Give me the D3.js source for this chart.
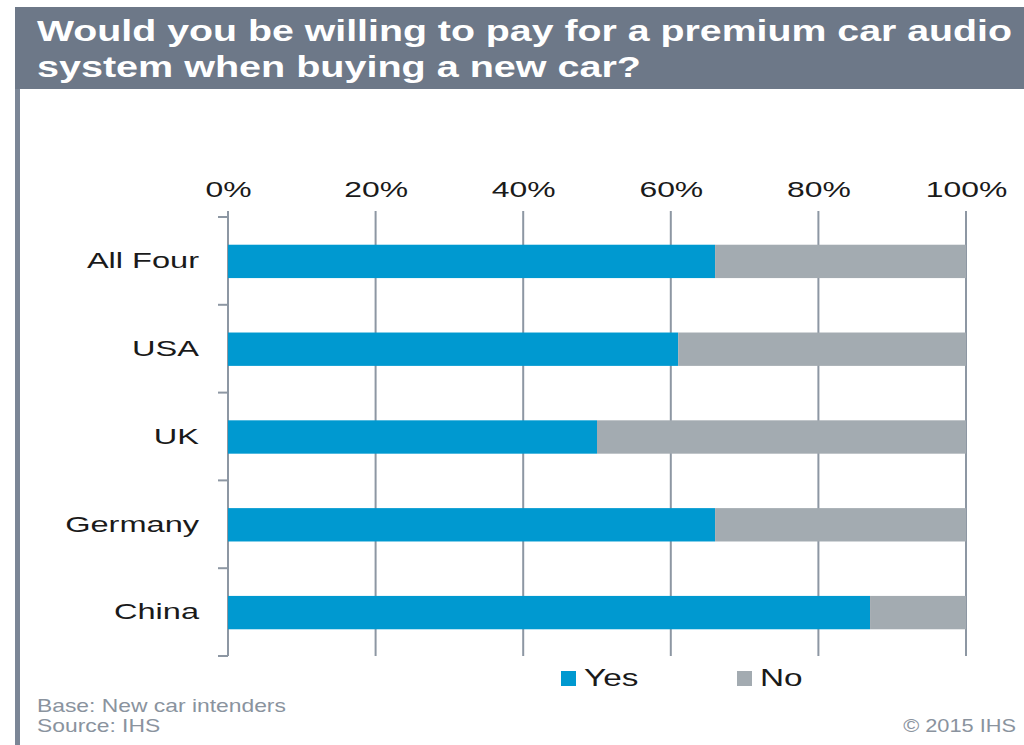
<!DOCTYPE html>
<html>
<head>
<meta charset="utf-8">
<script src="https://cdn.jsdelivr.net/npm/d3@7"></script>
<style>
  html, body { margin: 0; padding: 0; background: #fff; }
  svg { display: block; font-family: "Liberation Sans", Arial, sans-serif; }
</style>
</head>
<body>
<svg id="chart" width="1024" height="745"></svg>
<script>
// Survey answers per market (share of respondents, %)
const categories = ["All Four", "USA", "UK", "Germany", "China"];
const yesValues = [66, 61, 50, 66, 87];
const noValues = yesValues.map(v => 100 - v);
const seriesNames = ["Yes", "No"];
const tickValues = [0, 20, 40, 60, 80, 100];
const titleLines = ["Would you be willing to pay for a premium car audio", "system when buying a new car?"];
const notes = ["Base: New car intenders", "Source: IHS"];
const credit = "\u00A9 2015 IHS";

const colors = { Yes: "#0099d0", No: "#a3abb1" };
const gridColor = "#8d97a3";
const frameColor = "#7b8696";
const inkColor = "#1a1a1a";
const noteColor = "#8a939e";

// Text in this layout is set in a wide face: stretch glyphs horizontally
// around their anchor point.
function widen(sel, sx) {
  sel.each(function () {
    const t = d3.select(this);
    const x0 = +t.attr("x") || 0;
    t.attr("transform", `translate(${x0},0) scale(${sx},1) translate(${-x0},0)`);
  });
}

const svg = d3.select("#chart");

// Title banner and left frame rule
svg.append("rect").attr("x", 15).attr("y", 7).attr("width", 1009).attr("height", 82).attr("fill", "#6d7888");
svg.append("rect").attr("x", 15).attr("y", 89).attr("width", 5).attr("height", 656).attr("fill", frameColor);

const titleWidths = [975, 604];
titleLines.forEach((t, i) => {
  svg.append("text")
    .attr("x", 37).attr("y", 41 + i * 36)
    .attr("fill", "#fff").attr("font-size", 29).attr("font-weight", "bold")
    .attr("textLength", titleWidths[i]).attr("lengthAdjust", "spacingAndGlyphs")
    .text(t);
});

// Scales
const x = d3.scaleLinear().domain([0, 100]).range([228, 966]);
const y = d3.scaleBand().domain(categories).range([217, 656]).paddingInner(0.62).paddingOuter(0.31);
const yBands = d3.scaleBand().domain(categories).range([217, 656]);

// Vertical gridlines
svg.append("g").selectAll("line").data(tickValues).join("line")
  .attr("x1", d => x(d)).attr("x2", d => x(d))
  .attr("y1", 211).attr("y2", 656)
  .attr("stroke", gridColor).attr("stroke-width", 2);

// Top axis labels
const xAxis = d3.axisTop(x).tickValues(tickValues).tickSize(0).tickPadding(0).tickFormat(d => d + "%");
const gx = svg.append("g").attr("transform", "translate(0,197)").call(xAxis);
gx.select(".domain").remove();
gx.selectAll("text").attr("font-size", 22).attr("fill", inkColor)
  .attr("font-family", "Liberation Sans, Arial, sans-serif").attr("dy", 0)
  .attr("transform", "scale(1.45,1)");

// Category separators on the left axis
const sepYs = [217].concat(categories.map(c => yBands(c) + yBands.bandwidth()));
svg.append("g").selectAll("line").data(sepYs).join("line")
  .attr("x1", 218).attr("x2", 228)
  .attr("y1", d => d).attr("y2", d => d)
  .attr("stroke", gridColor).attr("stroke-width", 2);

// Stacked bars
const rows = categories.map((c, i) => ({ cat: c, Yes: yesValues[i], No: noValues[i] }));
const stacked = d3.stack().keys(seriesNames)(rows);
svg.append("g").selectAll("g").data(stacked).join("g")
  .attr("fill", d => colors[d.key])
  .selectAll("rect").data(d => d).join("rect")
  .attr("x", d => x(d[0]))
  .attr("width", d => x(d[1]) - x(d[0]))
  .attr("y", d => y(d.data.cat) + 0.5)
  .attr("height", y.bandwidth());

// Category labels
const yAxis = d3.axisLeft(yBands).tickSize(0).tickPadding(29);
const gy = svg.append("g").attr("transform", "translate(228,0)").call(yAxis);
gy.select(".domain").remove();
const gyText = gy.selectAll("text").attr("font-size", 22).attr("fill", inkColor)
  .attr("font-family", "Liberation Sans, Arial, sans-serif").attr("dy", "0.33em");
widen(gyText, 1.48);

// Legend
const legendX = [561, 737];
const legend = svg.append("g").selectAll("g").data(seriesNames).join("g")
  .attr("transform", (d, i) => `translate(${legendX[i]},671)`);
legend.append("rect").attr("width", 15).attr("height", 15).attr("fill", d => colors[d]);
widen(legend.append("text").attr("x", 23).attr("y", 15).attr("font-size", 23)
  .attr("fill", inkColor).text(d => d), 1.45);

// Footnotes
notes.forEach((t, i) => {
  widen(svg.append("text").attr("x", 37).attr("y", 712 + i * 20)
    .attr("font-size", 18).attr("fill", noteColor).text(t), 1.27);
});
widen(svg.append("text").attr("x", 1016).attr("y", 732).attr("text-anchor", "end")
  .attr("font-size", 18).attr("fill", noteColor).text(credit), 1.21);
</script>
</body>
</html>
